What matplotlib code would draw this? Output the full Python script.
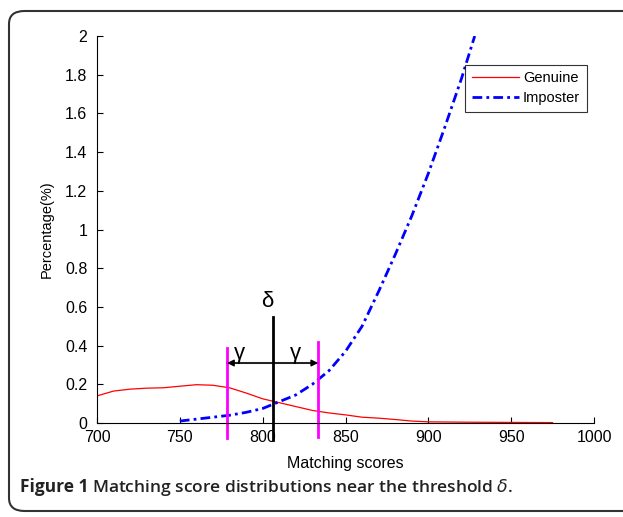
import matplotlib.pyplot as plt
from matplotlib.patches import FancyBboxPatch

plt.rcParams['font.family'] = ['Liberation Sans', 'DejaVu Sans']

# genuine score distribution
gen_x = [700, 710, 720, 730, 740, 750, 760, 770, 780, 790, 800, 810, 820, 830,
         840, 850, 860, 870, 880, 890, 900, 925, 950, 975]
gen_y = [0.14, 0.165, 0.175, 0.18, 0.182, 0.19, 0.198, 0.195, 0.182, 0.155, 0.125, 0.105,
         0.085, 0.065, 0.052, 0.042, 0.03, 0.025, 0.018, 0.01, 0.006, 0.004, 0.003, 0.002]

# imposter score distribution
imp_x = [750, 760, 770, 780, 790, 800, 810, 820, 830, 840, 850, 860, 870, 880, 890,
         900, 910, 920, 928]
imp_y = [0.01, 0.02, 0.03, 0.04, 0.055, 0.075, 0.11, 0.145, 0.2, 0.27, 0.37, 0.5,
         0.68, 0.87, 1.07, 1.29, 1.53, 1.78, 2.0]

delta = 806
gamma_lo, gamma_hi = 778.5, 833.5

fig = plt.figure(figsize=(6.23, 5.17), dpi=100)
border = FancyBboxPatch((9 / 623, 6 / 517), 1.2, 500 / 517,
                        boxstyle="round,pad=0,rounding_size=0.025",
                        transform=fig.transFigure, fill=False,
                        edgecolor='#333333', linewidth=1.5, clip_on=False)
fig.patches.append(border)

ax = fig.add_axes([97 / 623, 1 - 423 / 517, 497 / 623, 387 / 517])
ax.plot(gen_x, gen_y, color='red', linewidth=0.9, label='Genuine')
ax.plot(imp_x, imp_y, color='blue', linewidth=2, linestyle=(0, (3.5, 1.5, 1, 1.5)),
        label='Imposter')

ax.plot([delta, delta], [-0.09, 0.55], color='black', linewidth=2, clip_on=False)
ax.plot([gamma_lo, gamma_lo], [-0.08, 0.39], color='magenta', linewidth=2, clip_on=False)
ax.plot([gamma_hi, gamma_hi], [-0.07, 0.42], color='magenta', linewidth=2, clip_on=False)
ax.plot([gamma_lo, gamma_hi], [0.31, 0.31], color='#777777', linewidth=1.5, zorder=1)
ax.annotate('', xy=(gamma_lo, 0.31), xytext=(gamma_hi, 0.31),
            arrowprops=dict(arrowstyle='<|-|>', color='black', lw=1.0,
                            mutation_scale=10, shrinkA=0, shrinkB=0))
ax.text(delta - 3, 0.63, 'δ', fontsize=16, ha='center', va='center')
ax.text(786, 0.36, 'γ', fontsize=16, ha='center', va='center')
ax.text(820, 0.36, 'γ', fontsize=16, ha='center', va='center')

ax.set_xlim(700, 1000)
ax.set_ylim(0, 2)
ax.set_xticks([700, 750, 800, 850, 900, 950, 1000])
ax.set_yticks([0, 0.2, 0.4, 0.6, 0.8, 1, 1.2, 1.4, 1.6, 1.8, 2])
ax.set_yticklabels(['0', '0.2', '0.4', '0.6', '0.8', '1', '1.2', '1.4', '1.6', '1.8', '2'])
ax.tick_params(direction='in', length=4, labelsize=11.5, width=0.8)
ax.tick_params(axis='x', pad=5)
ax.tick_params(axis='y', pad=7)
ax.spines['top'].set_visible(False)
ax.spines['right'].set_visible(False)
ax.set_xlabel('Matching scores', fontsize=11.5, labelpad=8)
ax.set_ylabel('Percentage(%)', fontsize=10.5, labelpad=8)

leg = ax.legend(loc='upper right', bbox_to_anchor=(1.0, 0.945), fontsize=10.5,
                frameon=True, fancybox=False, edgecolor='black', handlelength=3.2,
                borderpad=0.45, labelspacing=0.4, handletextpad=0.3)
leg.get_frame().set_linewidth(0.8)

fig.text(20 / 623, 1 - 487 / 517, 'Figure 1', fontsize=12.5, fontweight='bold',
         color='#222222', va='center', family=['Open Sans', 'DejaVu Sans'])
fig.text(92 / 623, 1 - 487 / 517, 'Matching score distributions near the threshold $\\delta$.',
         fontsize=12.5, fontweight='semibold', color='#222222', va='center',
         family=['Open Sans', 'DejaVu Sans'])

fig.savefig('out.png', dpi=100)
